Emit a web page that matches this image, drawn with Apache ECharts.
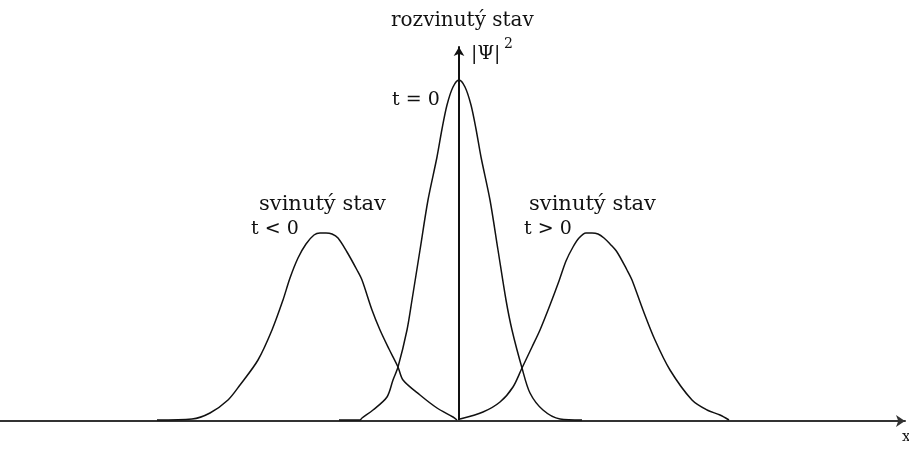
<!DOCTYPE html>
<html>
<head>
<meta charset="utf-8">
<script src="https://cdn.jsdelivr.net/npm/echarts@6/dist/echarts.min.js"></script>
<style>
  html, body { margin: 0; padding: 0; background: #fff; }
  #chart { width: 909px; height: 452px; }
</style>
</head>
<body>
<div id="chart"></div>
<script>
var centerX = [-120, -99, -97, -86, -72, -66, -61, -52, -47, -39, -31, -22, -17, -12, -6, 0, 6, 12, 17, 22, 31, 39, 47, 53, 63, 71, 84, 101, 123];
var centerY = [1, 1, 3, 11, 24, 41, 54, 91, 121, 171, 221, 264, 292, 316, 334, 341, 334, 316, 292, 264, 221, 171, 121, 91, 53, 28, 11, 2, 1];

var leftX = [-302, -267, -249, -231, -219, -201, -187, -176, -169, -161, -153, -145, -139, -133, -127, -121, -112, -102, -97, -87, -79, -70, -61, -56, -39, -22, -6, -2];
var leftY = [1, 2, 8, 21, 36, 61, 91, 121, 143, 163, 177, 186, 188, 188, 187, 183, 169, 151, 141, 111, 91, 72, 54, 41, 26, 13, 4, 1];

var rightX = [1, 24, 41, 54, 63, 73, 81, 91, 100, 107, 114, 120, 127, 133, 139, 145, 151, 158, 168, 173, 184, 196, 211, 233, 248, 261, 270];
var rightY = [2, 9, 19, 34, 53, 74, 91, 116, 140, 160, 174, 183, 188, 188, 187, 183, 177, 169, 151, 141, 111, 81, 51, 21, 11, 6, 1];

var labels = {
    top: 'rozvinutý stav',
    psi: '|Ψ|',
    sup: '2',
    t0: 't = 0',
    folded: 'svinutý stav',
    tNeg: 't < 0',
    tPos: 't > 0',
    xName: 'x'
};

function pairs(xs, ys) {
    var out = [];
    for (var i = 0; i < xs.length; i++) out.push([xs[i], ys[i]]);
    return out;
}

function curve(xs, ys) {
    return {
        type: 'line',
        data: pairs(xs, ys),
        showSymbol: false,
        smooth: 0.3,
        lineStyle: { color: '#111', width: 1.5 },
        silent: true
    };
}

var font = '"DejaVu Serif", serif';
function txt(s, x, y, size) {
    return {
        type: 'text',
        left: x,
        top: y - (size || 19) / 2 - 2,
        style: { text: s, font: (size || 19) + 'px ' + font, fill: '#111' }
    };
}

var chart = echarts.init(document.getElementById('chart'));
chart.setOption({
    animation: false,
    grid: { left: 0, right: 4, top: 47, bottom: 31 },
    xAxis: {
        type: 'value', min: -459, max: 446,
        axisLine: { show: true, symbol: ['none', 'arrow'], symbolSize: [9, 9], lineStyle: { color: '#333', width: 2 } },
        axisTick: { show: false }, axisLabel: { show: false }, splitLine: { show: false }
    },
    yAxis: {
        type: 'value', min: 0, max: 374,
        axisLine: { show: true, onZero: true, symbol: ['none', 'arrow'], symbolSize: [8, 9], lineStyle: { color: '#111', width: 2 } },
        axisTick: { show: false }, axisLabel: { show: false }, splitLine: { show: false }
    },
    series: [
        curve(leftX, leftY),
        curve(centerX, centerY),
        curve(rightX, rightY)
    ],
    graphic: [
        txt(labels.top, 391, 23, 20),
        txt(labels.psi, 471, 56),
        txt(labels.sup, 504, 46, 14),
        txt(labels.t0, 392, 102),
        txt(labels.folded, 259, 207, 21),
        txt(labels.tNeg, 251, 231),
        txt(labels.folded, 529, 207, 21),
        txt(labels.tPos, 524, 231),
        txt(labels.xName, 902, 439, 15)
    ]
});
</script>
</body>
</html>
